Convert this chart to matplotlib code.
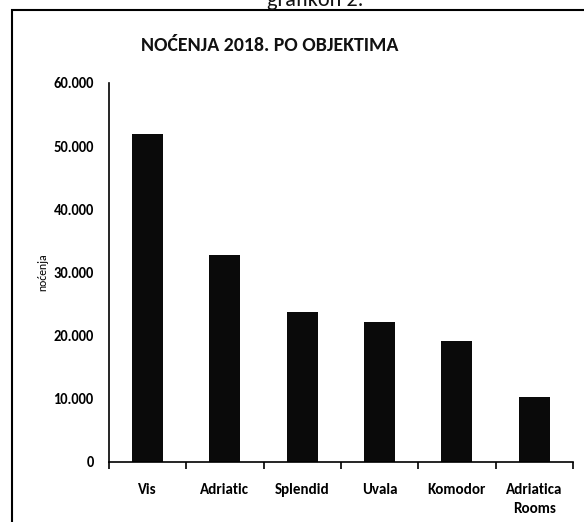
import matplotlib
matplotlib.use("Agg")
import matplotlib.pyplot as plt
from matplotlib.patches import Rectangle
from matplotlib.ticker import FixedLocator, FuncFormatter

categories = ["Vis", "Adriatic", "Splendid", "Uvala", "Komodor", "Adriatica\nRooms"]
values = [52000, 32800, 23700, 22100, 19150, 10250]
yticks = [0, 10000, 20000, 30000, 40000, 50000, 60000]

plt.rcParams['font.family'] = ['Carlito', 'Lato', 'DejaVu Sans']

fig = plt.figure(figsize=(5.84, 5.22), dpi=100)
ax = fig.add_axes([0.1866, 0.115, 0.7944, 0.726])

x = list(range(len(categories)))
ax.bar(x, values, width=0.4, color='#0a0a0a')

ax.set_xlim(-0.5, len(categories) - 0.5)
ax.set_ylim(0, 60000)
ax.yaxis.set_major_locator(FixedLocator(yticks))
ax.yaxis.set_major_formatter(FuncFormatter(lambda v, p: f"{int(v):,}".replace(",", ".")))
ax.tick_params(axis='y', length=0, pad=11, labelsize=10.5)
for lab in ax.get_yticklabels():
    lab.set_fontweight('bold')

ax.set_xticks(x)
ax.set_xticklabels(categories, fontsize=10.8, fontweight='bold', linespacing=1.45)
ax.xaxis.set_minor_locator(FixedLocator([i - 0.5 for i in range(len(categories) + 1)]))
ax.tick_params(axis='x', which='major', length=0, pad=15)
ax.tick_params(axis='x', which='minor', length=5, width=1.2, direction='out')

ax.spines['top'].set_visible(False)
ax.spines['right'].set_visible(False)
ax.spines['left'].set_linewidth(1.2)
ax.spines['bottom'].set_linewidth(1.2)

ax.set_ylabel("noćenja", fontsize=8.5)
ax.yaxis.set_label_coords(-0.131, 0.5)

title = fig.text(0.461, 0.913, "NOĆENJA 2018. PO OBJEKTIMA", ha='center', va='center',
                 fontsize=15, fontweight='bold', color='#111111')
fig.canvas.draw()
w = title.get_window_extent().width
title.set_fontsize(15 * 258.0 / w)

fig.text(0.54, 1.0, "grafikon 2.", ha='center', va='center', fontsize=16, color='#111111')

frame = Rectangle((0.0205, -0.1), 1.2, 1.0 - 10 / 522 + 0.1, transform=fig.transFigure,
                  fill=False, edgecolor='black', linewidth=1.5)
fig.patches.append(frame)

fig.savefig("out.png", dpi=100)
